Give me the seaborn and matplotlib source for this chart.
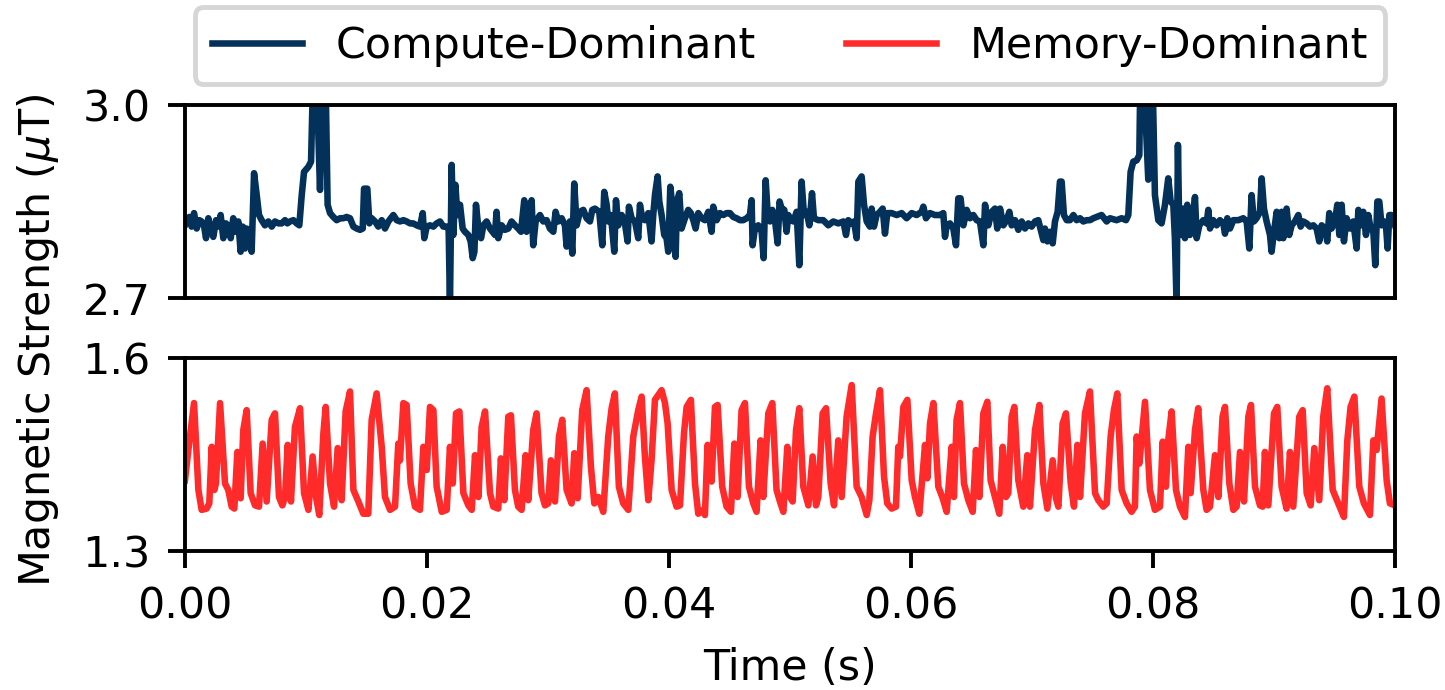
import numpy as np
import matplotlib
matplotlib.use('Agg')
import matplotlib.pyplot as plt
import seaborn as sns

# values (time in ms, field in uT)
time_compute_ms = [
    0.00, 0.36, 0.55, 0.75, 0.97, 1.19, 1.38, 1.57, 1.74, 1.93,
    2.12, 2.34, 2.57, 2.76, 2.95, 3.17, 3.39, 3.58, 3.78, 3.99,
    4.22, 4.41, 4.60, 4.77, 4.96, 5.10, 5.32, 5.51, 5.71, 5.93,
    6.12, 6.34, 6.61, 6.89, 7.17, 7.44, 7.72, 7.99, 8.27, 8.46,
    8.68, 8.96, 9.23, 9.45, 9.65, 9.84, 10.20, 10.42, 10.61, 10.75,
    10.89, 11.16, 11.44, 11.63, 11.79, 11.99, 12.26, 12.54, 12.81, 13.09,
    13.36, 13.64, 13.92, 14.19, 14.47, 14.69, 14.80, 15.07, 15.24, 15.43,
    15.71, 15.98, 16.26, 16.53, 16.81, 17.22, 17.50, 17.77, 18.05, 18.32,
    18.60, 18.87, 19.15, 19.42, 19.65, 19.78, 19.98, 20.25, 20.53, 20.80,
    21.08, 21.35, 21.63, 21.79, 21.90, 22.04, 22.18, 22.35, 22.51, 22.73,
    22.95, 23.14, 23.42, 23.61, 23.78, 23.92, 24.05, 24.25, 24.47, 24.66,
    24.93, 25.21,
    25.62, 25.75, 25.89, 26.17, 26.44, 26.72, 26.99, 27.27, 27.54, 27.77,
    28.04, 28.23, 28.45, 28.65, 28.78, 28.98, 29.34, 29.61, 29.89, 30.16,
    30.44, 30.63, 30.85, 31.13, 31.40, 31.54, 31.81, 32.01, 32.17, 32.37,
    32.64, 32.92, 33.19, 33.47, 33.66, 33.88, 34.24, 34.49, 34.65, 34.85,
    34.98, 35.20, 35.48, 35.62, 35.81, 36.09, 36.36, 36.58, 36.69, 36.91,
    37.19, 37.46, 37.60, 37.79, 38.01, 38.29, 38.56, 38.70, 38.84, 39.06,
    39.20, 39.39, 39.61, 39.80, 39.94, 40.11, 40.27, 40.41, 40.55, 40.66,
    40.85, 41.04, 41.32, 41.59, 41.81, 42.01, 42.20, 42.42, 42.70, 42.97,
    43.25, 43.52, 43.66, 43.94, 44.21, 44.49, 44.76, 45.04, 45.31, 45.59,
    45.86, 46.14, 46.42, 46.69, 46.83, 46.91, 47.10, 47.38, 47.66, 47.82,
    47.99, 48.15, 48.35, 48.54, 48.76, 48.98, 49.14, 49.31, 49.53, 49.72,
    49.86, 50.13,
    50.28, 50.55, 50.77, 50.96, 51.16, 51.38, 51.60, 51.82, 51.98, 52.34,
    52.75, 53.17, 53.58, 53.99, 54.41, 54.63, 54.82, 55.10, 55.29, 55.51,
    55.65, 55.92, 56.12, 56.34, 56.61, 56.75, 56.94, 57.16, 57.44, 57.66,
    57.85, 58.04, 58.40, 58.82, 59.23, 59.64, 60.06, 60.47, 60.88, 61.02,
    61.24, 61.57, 61.98, 62.40, 62.67, 62.81, 62.95, 63.22, 63.50, 63.72,
    63.91, 64.10, 64.33, 64.60, 64.88, 65.15, 65.43, 65.70, 65.98, 66.12,
    66.39, 66.67, 66.94, 67.13, 67.36, 67.63, 67.91, 68.13, 68.32, 68.60,
    68.87, 69.15, 69.42, 69.70, 69.97, 70.25, 70.52, 70.72, 70.94, 71.07,
    71.27, 71.49, 71.71, 71.90, 72.12, 72.31, 72.45, 72.64, 72.87, 73.14,
    73.42, 73.69, 73.97, 74.24, 74.52, 74.79, 75.07, 75.34,
    75.75, 76.17, 76.44, 76.99, 77.41, 77.77, 77.96, 78.15, 78.37, 78.65,
    78.87, 78.98, 79.20, 79.61, 79.80, 79.97, 80.16, 80.44, 80.71, 80.99,
    81.26, 81.46, 81.68, 81.81, 81.95, 82.06, 82.17, 82.37, 82.50, 82.64,
    82.83, 83.05, 83.27, 83.47, 83.61, 83.83, 84.16, 84.43, 84.57, 84.71,
    84.98, 85.26, 85.53, 85.81, 85.95, 86.14, 86.36, 86.64, 87.05, 87.46,
    87.74, 87.96, 88.15, 88.34, 88.56, 88.84, 88.98, 89.17, 89.39, 89.67,
    89.80, 90.00, 90.22, 90.44, 90.63, 90.77, 91.04, 91.26, 91.46, 91.73,
    92.01, 92.20, 92.42, 92.70, 92.97, 93.25, 93.52, 93.74, 93.94, 94.21,
    94.40, 94.57, 94.76, 95.04, 95.23, 95.40, 95.59, 95.78, 96.00, 96.28,
    96.55, 96.83, 96.97, 97.16, 97.38, 97.60, 97.79, 97.99, 98.21, 98.37,
    98.54, 98.70, 98.89, 99.09, 99.25, 99.39, 99.53, 99.72, 100.0,
]
compute_uT = [
    2.813, 2.826, 2.811, 2.832, 2.808, 2.821, 2.819, 2.813, 2.793, 2.824,
    2.808, 2.795, 2.821, 2.811, 2.829, 2.793, 2.816, 2.811, 2.793, 2.824,
    2.803, 2.819, 2.772, 2.811, 2.777, 2.808, 2.800, 2.772, 2.894, 2.860,
    2.829, 2.821, 2.813, 2.819, 2.811, 2.819, 2.816, 2.816, 2.821, 2.816,
    2.819, 2.821, 2.816, 2.813, 2.860, 2.896, 2.904, 2.912, 3.060, 2.964,
    3.040, 2.868, 3.070, 3.030, 2.845, 2.832, 2.826, 2.821, 2.824, 2.824,
    2.826, 2.824, 2.811, 2.808, 2.806, 2.808, 2.870, 2.870, 2.816, 2.824,
    2.819, 2.811, 2.821, 2.808, 2.819, 2.829, 2.821, 2.819, 2.821, 2.819,
    2.816, 2.816, 2.813, 2.811, 2.832, 2.793, 2.811, 2.813, 2.811, 2.816,
    2.819, 2.811, 2.811, 2.808, 2.690, 2.907, 2.798, 2.876, 2.829, 2.845,
    2.808, 2.803, 2.798, 2.788, 2.762, 2.772, 2.845, 2.808, 2.793, 2.813,
    2.819, 2.808,
    2.798, 2.834, 2.793, 2.813, 2.806, 2.808, 2.819, 2.813, 2.808, 2.803,
    2.852, 2.803, 2.816, 2.852, 2.782, 2.819, 2.829, 2.819, 2.821, 2.808,
    2.803, 2.834, 2.819, 2.824, 2.813, 2.780, 2.819, 2.769, 2.878, 2.813,
    2.834, 2.837, 2.824, 2.819, 2.837, 2.839, 2.834, 2.782, 2.865, 2.845,
    2.819, 2.829, 2.772, 2.852, 2.813, 2.829, 2.816, 2.788, 2.842, 2.824,
    2.819, 2.793, 2.845, 2.824, 2.821, 2.832, 2.788, 2.829, 2.860, 2.889,
    2.850, 2.829, 2.798, 2.793, 2.772, 2.873, 2.845, 2.793, 2.764, 2.850,
    2.863, 2.808, 2.824, 2.837, 2.832, 2.821, 2.808, 2.832, 2.824, 2.821,
    2.834, 2.803, 2.842, 2.821, 2.832, 2.829, 2.832, 2.832, 2.826, 2.824,
    2.821, 2.821, 2.824, 2.829, 2.852, 2.782, 2.808, 2.813, 2.803, 2.762,
    2.883, 2.834, 2.819, 2.837, 2.821, 2.785, 2.850, 2.839, 2.837, 2.803,
    2.829, 2.821,
    2.819, 2.834, 2.751, 2.881, 2.829, 2.834, 2.813, 2.863, 2.824, 2.821,
    2.821, 2.813, 2.819, 2.816, 2.819, 2.798, 2.821, 2.816, 2.819, 2.793,
    2.881, 2.889, 2.845, 2.819, 2.811, 2.839, 2.811, 2.829, 2.834, 2.839,
    2.800, 2.832, 2.832, 2.829, 2.832, 2.824, 2.832, 2.829, 2.834, 2.842,
    2.824, 2.832, 2.829, 2.829, 2.832, 2.795, 2.813, 2.816, 2.808, 2.782,
    2.855, 2.855, 2.813, 2.837, 2.824, 2.829, 2.821, 2.819, 2.782, 2.845,
    2.813, 2.834, 2.839, 2.808, 2.839, 2.813, 2.821, 2.834, 2.813, 2.821,
    2.806, 2.819, 2.808, 2.816, 2.811, 2.819, 2.821, 2.806, 2.790, 2.808,
    2.788, 2.803, 2.785, 2.819, 2.834, 2.881, 2.881, 2.829, 2.821, 2.821,
    2.829, 2.821, 2.824, 2.819, 2.821, 2.821, 2.824, 2.826,
    2.829, 2.819, 2.824, 2.821, 2.824, 2.821, 2.829, 2.896, 2.912, 2.914,
    2.922, 3.080, 3.060, 2.884, 3.070, 3.040, 2.860, 2.821, 2.816, 2.845,
    2.886, 2.850, 2.845, 2.793, 2.690, 2.938, 2.808, 2.798, 2.839, 2.793,
    2.845, 2.798, 2.821, 2.857, 2.793, 2.813, 2.821, 2.816, 2.837, 2.808,
    2.821, 2.813, 2.821, 2.816, 2.800, 2.824, 2.808, 2.821, 2.821, 2.824,
    2.819, 2.777, 2.860, 2.819, 2.824, 2.834, 2.886, 2.839, 2.819, 2.798,
    2.772, 2.803, 2.834, 2.793, 2.834, 2.793, 2.839, 2.798, 2.813, 2.819,
    2.829, 2.811, 2.819, 2.816, 2.811, 2.813, 2.808, 2.788, 2.813, 2.808,
    2.788, 2.832, 2.808, 2.819, 2.845, 2.798, 2.845, 2.788, 2.824, 2.808,
    2.819, 2.777, 2.837, 2.813, 2.834, 2.798, 2.829, 2.808, 2.803, 2.751,
    2.850, 2.850, 2.813, 2.819, 2.813, 2.777, 2.829, 2.829, 2.813,
]

time_memory_ms = [
    0.00, 0.28, 0.75, 1.11, 1.38, 1.79, 2.01, 2.21, 2.43, 2.56,
    2.90, 3.31, 3.58, 3.86, 4.08, 4.33, 4.60, 4.82, 5.10, 5.43,
    5.79, 6.12, 6.42, 6.75, 7.17, 7.44, 7.77, 8.05, 8.27, 8.49,
    8.76, 9.09, 9.51, 9.84, 10.20, 10.55, 10.83, 11.10, 11.44, 11.63,
    11.99, 12.32, 12.62, 12.95, 13.28, 13.64, 13.92, 14.33, 14.74, 15.15,
    15.43, 15.84, 16.26, 16.53, 16.95, 17.36, 17.63, 17.77, 18.05, 18.32,
    18.65, 19.01, 19.42, 19.70, 19.98, 20.25, 20.53, 20.80, 21.22, 21.63,
    21.90, 22.13, 22.40, 22.68, 23.01, 23.42, 23.70, 23.97, 24.25, 24.52,
    24.80, 25.21,
    25.48, 25.89, 26.11, 26.39, 26.72, 26.94, 27.27, 27.54, 27.82, 28.15,
    28.37, 28.78, 29.06, 29.47, 29.75, 30.02, 30.24, 30.58, 30.91, 31.18,
    31.54, 31.95, 32.17, 32.45, 32.83, 33.19, 33.55, 33.83, 34.16, 34.57,
    34.98, 35.26, 35.53, 35.86, 36.22, 36.64, 37.05, 37.46, 37.74, 38.01,
    38.29, 38.56, 38.84, 39.39, 39.67, 39.89, 40.22, 40.63, 40.91, 41.24,
    41.46, 41.81, 42.15, 42.42, 42.83, 42.97, 43.19, 43.52, 43.80, 44.02,
    44.40, 44.76, 45.12, 45.40, 45.67, 46.00, 46.28, 46.61, 46.97, 47.24,
    47.57, 47.79, 48.21, 48.54, 48.89, 49.17, 49.45, 49.78, 50.00,
    50.22, 50.50, 50.77, 51.10, 51.52, 51.87, 52.15, 52.34, 52.70, 52.98,
    53.36, 53.64, 53.99, 54.27, 54.68, 55.10, 55.51, 55.92, 56.34, 56.56,
    56.83, 57.11, 57.44, 57.77, 58.04, 58.40, 58.76, 58.95, 59.09, 59.37,
    59.70, 60.06, 60.33, 60.69, 61.16, 61.35, 61.57, 61.85, 62.26, 62.62,
    62.95, 63.36, 63.55, 63.77, 64.05, 64.38, 64.74, 65.10, 65.37, 65.65,
    65.98, 66.31, 66.58, 66.94, 67.30, 67.58, 67.85, 68.04, 68.32, 68.54,
    68.87, 69.28, 69.61, 69.83, 70.25, 70.61, 70.94, 71.27, 71.71, 71.98,
    72.18, 72.53, 72.81, 73.20, 73.47, 73.75, 73.97, 74.38, 74.79, 75.21,
    75.48, 75.89, 76.17, 76.50, 76.77, 77.05, 77.41, 77.82, 78.23, 78.51,
    78.65, 78.87, 79.34, 79.75, 80.16, 80.58, 80.80, 81.07, 81.26, 81.54,
    81.90, 82.23, 82.64, 82.92, 83.11, 83.47, 83.74, 84.16, 84.43, 84.71,
    85.12, 85.40, 85.75, 85.95, 86.31, 86.64, 86.91, 87.19, 87.52, 87.88,
    88.10, 88.43, 88.84, 89.06, 89.25, 89.53, 90.00, 90.27, 90.63, 91.04,
    91.32, 91.59, 92.09, 92.37, 92.70, 93.03, 93.33, 93.74, 94.07, 94.40,
    94.85, 95.31, 95.78, 96.06, 96.33, 96.64, 97.05, 97.43, 97.93, 98.21,
    98.48, 98.89, 99.31, 99.58, 100.0,
]
memory_uT = [
    1.410, 1.457, 1.530, 1.395, 1.364, 1.366, 1.374, 1.462, 1.395, 1.405,
    1.530, 1.405, 1.395, 1.369, 1.366, 1.454, 1.382, 1.488, 1.519, 1.390,
    1.371, 1.369, 1.467, 1.377, 1.504, 1.514, 1.384, 1.371, 1.384, 1.465,
    1.377, 1.493, 1.522, 1.390, 1.364, 1.447, 1.384, 1.356, 1.483, 1.524,
    1.405, 1.369, 1.460, 1.379, 1.517, 1.548, 1.395, 1.377, 1.358, 1.358,
    1.504, 1.545, 1.462, 1.384, 1.364, 1.369, 1.467, 1.441, 1.530, 1.527,
    1.405, 1.369, 1.364, 1.462, 1.426, 1.524, 1.519, 1.400, 1.361, 1.364,
    1.462, 1.405, 1.514, 1.517, 1.390, 1.371, 1.364, 1.449, 1.384, 1.493,
    1.517, 1.390,
    1.369, 1.366, 1.444, 1.379, 1.509, 1.511, 1.395, 1.369, 1.364, 1.449,
    1.379, 1.488, 1.514, 1.390, 1.371, 1.374, 1.441, 1.377, 1.478, 1.504,
    1.395, 1.374, 1.452, 1.382, 1.519, 1.550, 1.431, 1.374, 1.384, 1.361,
    1.478, 1.522, 1.545, 1.400, 1.374, 1.364, 1.478, 1.519, 1.540, 1.447,
    1.379, 1.441, 1.535, 1.550, 1.530, 1.498, 1.395, 1.369, 1.371, 1.483,
    1.524, 1.535, 1.405, 1.358, 1.364, 1.356, 1.465, 1.408, 1.524, 1.527,
    1.400, 1.369, 1.361, 1.467, 1.384, 1.519, 1.530, 1.400, 1.374, 1.361,
    1.472, 1.384, 1.514, 1.530, 1.395, 1.377, 1.361, 1.462, 1.384,
    1.377, 1.488, 1.522, 1.400, 1.371, 1.447, 1.371, 1.384, 1.514, 1.522,
    1.405, 1.371, 1.472, 1.384, 1.509, 1.558, 1.400, 1.384, 1.356, 1.379,
    1.478, 1.514, 1.550, 1.416, 1.374, 1.366, 1.369, 1.462, 1.447, 1.524,
    1.535, 1.410, 1.384, 1.358, 1.465, 1.413, 1.498, 1.530, 1.400, 1.382,
    1.361, 1.462, 1.384, 1.504, 1.530, 1.405, 1.379, 1.361, 1.457, 1.384,
    1.514, 1.532, 1.410, 1.384, 1.358, 1.462, 1.384, 1.390, 1.509, 1.524,
    1.410, 1.369, 1.449, 1.369, 1.488, 1.527, 1.405, 1.366, 1.441, 1.382,
    1.369, 1.498, 1.514, 1.405, 1.369, 1.465, 1.384, 1.514, 1.548, 1.390,
    1.379, 1.369, 1.374, 1.478, 1.519, 1.545, 1.395, 1.374, 1.361, 1.369,
    1.478, 1.436, 1.532, 1.395, 1.364, 1.369, 1.470, 1.400, 1.472, 1.517,
    1.395, 1.369, 1.353, 1.462, 1.390, 1.488, 1.522, 1.395, 1.364, 1.369,
    1.449, 1.384, 1.509, 1.524, 1.405, 1.364, 1.369, 1.454, 1.377, 1.509,
    1.527, 1.400, 1.371, 1.369, 1.454, 1.371, 1.514, 1.524, 1.400, 1.366,
    1.454, 1.369, 1.509, 1.519, 1.390, 1.371, 1.460, 1.379, 1.509, 1.553,
    1.395, 1.374, 1.353, 1.472, 1.524, 1.540, 1.400, 1.374, 1.356, 1.472,
    1.457, 1.537, 1.410, 1.374, 1.371,
]

series_labels = ['Compute-Dominant', 'Memory-Dominant']
series_colors = ['#04315a', '#ff2b2b']
x_ticks = [0.00, 0.02, 0.04, 0.06, 0.08, 0.10]

plt.rcParams['font.family'] = 'DejaVu Sans'
plt.rcParams['font.size'] = 8.8

DPI = 350
fig, (ax_top, ax_bot) = plt.subplots(2, 1, figsize=(1445 / DPI, 690 / DPI), dpi=DPI, sharex=True)
fig.subplots_adjust(left=0.128, right=0.9654, top=0.8478, bottom=0.2014, hspace=0.311)

sns.lineplot(x=np.array(time_compute_ms) / 1000, y=compute_uT, ax=ax_top,
             color=series_colors[0], linewidth=1.35, estimator=None, sort=False,
             label=series_labels[0], legend=False)
sns.lineplot(x=np.array(time_memory_ms) / 1000, y=memory_uT, ax=ax_bot,
             color=series_colors[1], linewidth=1.35, estimator=None, sort=False,
             label=series_labels[1], legend=False)

ax_top.set_ylim(2.7, 3.0)
ax_top.set_yticks([2.7, 3.0])
ax_bot.set_ylim(1.3, 1.6)
ax_bot.set_yticks([1.3, 1.6])
ax_bot.set_xlim(0, 0.1)
ax_bot.set_xticks(x_ticks)
ax_top.tick_params(axis='x', which='both', bottom=False, labelbottom=False)
ax_top.set_ylabel('')
ax_bot.set_ylabel('')
ax_bot.set_xlabel('Time (s)')

fig.text(0.026, 0.507, 'Magnetic Strength ($\\mu$T)', rotation=90, ha='center', va='center')

handles = ax_top.get_lines()[:1] + ax_bot.get_lines()[:1]
ax_top.legend(handles, series_labels, loc='lower center', bbox_to_anchor=(0.5, 1.0),
              ncol=2, handlelength=2.1, columnspacing=2.1)

fig.savefig('out.png', dpi=DPI)
